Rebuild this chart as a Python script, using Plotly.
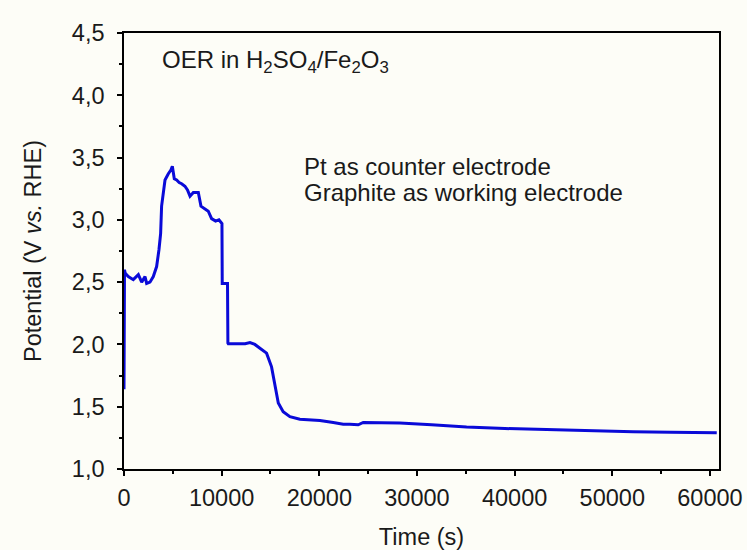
import plotly.graph_objects as go

# Chronopotentiometry trace: time (s) and potential (V vs. RHE)
time_s = [0, 50, 100, 150, 440, 950, 1470, 1810, 2150, 2320, 2660, 3000, 3340,
          3580, 3750, 3850, 4030, 4200, 4540, 4800, 4950, 5150, 5390, 5650,
          5900, 6240, 6500, 6760, 7100, 7610, 7880, 8220, 8630, 8970, 9380,
          9720, 9930, 10030, 10060, 10400, 10600, 10640, 10680, 11500, 12400,
          12900, 13400, 13920, 14600, 15110, 15460, 15800, 16300, 16990,
          18010, 19040, 20060, 21430, 22450, 23130, 23980, 24500, 26000,
          28250, 31500, 35080, 39000, 43600, 47500, 52130, 56000, 60700]
potential_v = [1.64, 2.60, 2.58, 2.57, 2.545, 2.52, 2.56, 2.50, 2.545, 2.49,
               2.50, 2.545, 2.625, 2.76, 2.89, 3.11, 3.21, 3.32, 3.37, 3.40,
               3.43, 3.33, 3.32, 3.30, 3.29, 3.27, 3.24, 3.19, 3.22, 3.22,
               3.11, 3.09, 3.07, 3.01, 2.99, 3.00, 2.98, 2.97, 2.49, 2.49,
               2.49, 2.01, 2.005, 2.005, 2.005, 2.015, 2.0, 1.97, 1.93, 1.82,
               1.66, 1.53, 1.46, 1.42, 1.40, 1.395, 1.39, 1.374, 1.36, 1.36,
               1.355, 1.374, 1.372, 1.37, 1.355, 1.337, 1.325, 1.315, 1.308,
               1.30, 1.295, 1.29]

x_tick_vals = [0, 10000, 20000, 30000, 40000, 50000, 60000]
x_tick_text = ["0", "10000", "20000", "30000", "40000", "50000", "60000"]
y_tick_vals = [1.0, 1.5, 2.0, 2.5, 3.0, 3.5, 4.0, 4.5]
y_tick_text = ["1,0", "1,5", "2,0", "2,5", "3,0", "3,5", "4,0", "4,5"]

FONT = "Liberation Sans, Arial, sans-serif"
TEXT_COLOR = "#1a1a1a"
BG = "#fdfdf7"
FS = 23.5

fig = go.Figure()
fig.add_trace(go.Scatter(
    x=time_s, y=potential_v, mode="lines",
    line=dict(color="#0a0ad8", width=3),
    showlegend=False,
))

axis_common = dict(
    showline=True, linecolor="black", linewidth=1.6, mirror=True,
    ticks="outside", ticklen=5, tickwidth=1.6, tickcolor="black",
    showgrid=False, zeroline=False, automargin=False,
    tickfont=dict(family=FONT, size=FS, color=TEXT_COLOR),
)

fig.update_xaxes(
    **axis_common,
    range=[0, 60930],
    tickmode="array", tickvals=x_tick_vals, ticktext=x_tick_text,
    minor=dict(tickmode="linear", tick0=5000, dtick=10000, ticks="outside",
               ticklen=3, tickwidth=1.6, tickcolor="black"),
    ticklabelstandoff=2,
    title=dict(text="Time (s)", font=dict(family=FONT, size=FS, color=TEXT_COLOR),
               standoff=20),
)
fig.update_yaxes(
    **axis_common,
    range=[1.0, 4.5],
    tickmode="array", tickvals=y_tick_vals, ticktext=y_tick_text,
    minor=dict(tickmode="linear", tick0=1.25, dtick=0.5, ticks="outside",
               ticklen=3, tickwidth=1.6, tickcolor="black"),
    ticklabelstandoff=8,
    title=dict(text="Potential (V <i>vs.</i> RHE)",
               font=dict(family=FONT, size=FS, color=TEXT_COLOR), standoff=24),
)

fig.add_annotation(
    x=3685, y=4.27, xref="x", yref="y", xanchor="left", yanchor="middle",
    text="OER in H<sub>2</sub>SO<sub>4</sub>/Fe<sub>2</sub>O<sub>3</sub>",
    showarrow=False, font=dict(family=FONT, size=24, color=TEXT_COLOR),
)
# two text lines, set a little closer than the default line height
for label, yv in [("Pt as counter electrode", 3.432),
                  ("Graphite as working electrode", 3.22)]:
    fig.add_annotation(
        x=18250, y=yv, xref="x", yref="y", xanchor="left", yanchor="middle",
        text=label, align="left", showarrow=False,
        font=dict(family=FONT, size=24, color=TEXT_COLOR),
    )

fig.update_layout(
    width=747, height=550,
    margin=dict(l=124, r=28, t=33, b=81),
    paper_bgcolor=BG, plot_bgcolor=BG,
)

fig.write_html("out.html")
